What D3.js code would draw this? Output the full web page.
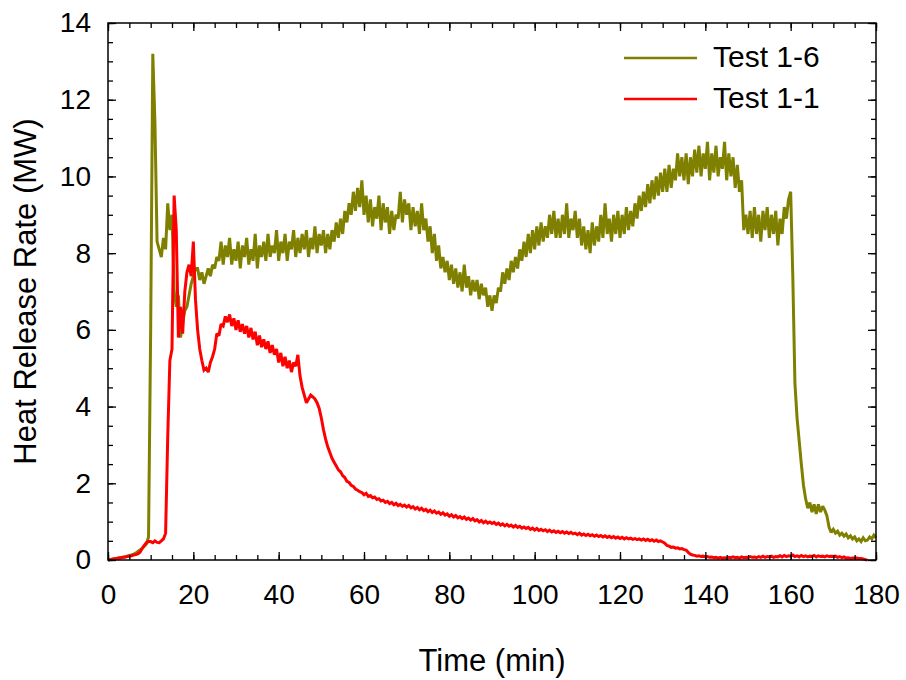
<!DOCTYPE html>
<html>
<head>
<meta charset="utf-8">
<script src="https://cdn.jsdelivr.net/npm/d3@7"></script>
<style>
	body { margin: 0; background: #fff; }
	svg { display: block; font-family: 'Liberation Sans', Arial, sans-serif; }
</style>
</head>
<body>
<div data-chart></div>
<script>
const dimensions = {
	width: 906,
	height: 680,
	marginTop: 23,
	marginRight: 30,
	marginBottom: 120,
	marginLeft: 108
}

// samples every half minute
const timeStep = 0.5

const test16 = [
	0, 0.01, 0.02, 0.03, 0.04, 0.05, 0.06, 0.07, 0.08, 0.1,
	0.12, 0.13, 0.15, 0.18, 0.22, 0.26, 0.3, 0.36, 0.42, 0.6,
	6.0, 13.2, 11.4, 8.3, 8.1, 7.9, 8.4, 8.1, 9.3, 8.6,
	9.0, 7.0, 6.6, 6.9, 5.8, 6.2, 6.5, 6.6, 6.9, 7.2,
	7.4, 7.6, 7.6, 7.3, 7.5, 7.2, 7.4, 7.6, 7.4, 7.7, 7.6, 7.9,
	7.8, 8.3, 7.7, 8.2, 7.9, 8.4, 7.7, 8.1, 7.8, 8.3,
	7.6, 8.2, 7.9, 8.4, 7.7, 8.1, 7.8, 8.5, 7.6, 8.2,
	7.9, 8.3, 7.8, 8.5, 7.9, 8.2, 8.0, 8.6, 7.8, 8.3,
	8.0, 8.5, 7.8, 8.3, 8.1, 8.6, 7.9, 8.4, 8.0, 8.5,
	8.1, 8.6, 7.9, 8.4, 8.1, 8.7, 8.0, 8.5, 8.2, 8.6,
	8.0, 8.5, 8.1, 8.6, 8.3, 8.8, 8.4, 8.9, 8.5, 9.1,
	8.8, 9.3, 9.0, 9.6, 9.1, 9.7, 9.2, 9.9, 9.0, 9.5,
	8.8, 9.4, 8.7, 9.2, 8.9, 9.5, 8.6, 9.3, 8.8, 9.2,
	8.5, 9.1, 8.6, 9.0, 8.9, 9.6, 8.8, 9.4, 9.0, 9.3,
	8.6, 9.2, 8.7, 9.1, 8.5, 9.3, 8.6, 8.9, 8.3, 8.7,
	8.0, 8.5, 7.8, 8.2, 7.6, 7.9, 7.5, 7.8, 7.3, 7.7,
	7.2, 7.6, 7.1, 7.5, 7.0, 7.7, 7.1, 7.4, 6.9, 7.3,
	7.0, 7.3, 6.8, 7.2, 6.9, 7.1, 6.6, 6.9, 6.5, 6.9,
	6.7, 7.1, 7.0, 7.5, 7.2, 7.6, 7.3, 7.8, 7.5, 7.9,
	7.6, 8.1, 7.8, 8.3, 7.9, 8.5, 8.0, 8.6, 8.1, 8.7,
	8.2, 8.8, 8.3, 8.7, 8.4, 9.0, 8.5, 9.1, 8.4, 8.9,
	8.4, 9.0, 8.5, 9.3, 8.4, 8.9, 8.6, 9.1, 8.4, 8.9,
	8.2, 8.7, 8.1, 8.6, 8.0, 8.8, 8.2, 8.7, 8.3, 9.0,
	8.4, 9.3, 8.5, 8.9, 8.3, 9.0, 8.5, 9.1, 8.4, 9.0,
	8.5, 9.2, 8.6, 9.1, 8.7, 9.3, 8.9, 9.5, 9.1, 9.6,
	9.2, 9.8, 9.3, 9.9, 9.4, 10.0, 9.5, 10.1, 9.6, 10.2,
	9.6, 10.3, 9.7, 10.2, 9.9, 10.6, 10.0, 10.5, 9.9, 10.6,
	9.8, 10.5, 10.0, 10.7, 10.1, 10.8, 10.0, 10.6, 10.2, 10.9,
	9.9, 10.6, 10.1, 10.8, 10.0, 10.5, 10.2, 10.9, 9.9, 10.6,
	10.0, 10.5, 9.7, 10.3, 9.6, 9.9, 8.6, 9.0, 8.5, 9.1,
	8.4, 9.2, 8.5, 9.0, 8.3, 9.1, 8.6, 9.2, 8.4, 9.0,
	8.5, 9.1, 8.2, 8.9, 8.5, 9.2, 8.9, 9.4, 9.6, 7.4,
	4.6, 3.7, 3.1, 2.5, 1.95, 1.6, 1.35, 1.5, 1.25, 1.45,
	1.2, 1.45, 1.25, 1.4, 1.3, 1.15, 0.85, 0.72, 0.8, 0.7,
	0.75, 0.65, 0.7, 0.62, 0.68, 0.58, 0.63, 0.55, 0.6, 0.5,
	0.55, 0.48, 0.58, 0.5, 0.52, 0.6, 0.55, 0.65, 0.58
]

const test11 = [
	0, 0.01, 0.02, 0.03, 0.04, 0.05, 0.06, 0.07, 0.08, 0.09,
	0.1, 0.11, 0.13, 0.14, 0.16, 0.2, 0.3, 0.38, 0.45, 0.48,
	0.48, 0.45, 0.5, 0.46, 0.45, 0.5, 0.55, 0.7, 3.2, 5.2,
	5.5, 9.5, 8.6, 5.8, 6.6, 5.9, 7.0, 7.5, 7.7, 7.4,
	8.3, 6.8, 6.0, 5.5, 5.2, 4.95, 5.0, 4.9, 5.15, 5.3,
	5.5, 5.9, 5.85, 6.15, 6.1, 6.35, 6.2, 6.4, 6.1, 6.3,
	6.0, 6.25, 5.95, 6.15, 5.9, 6.1, 5.8, 6.05, 5.75, 5.95,
	5.6, 5.85, 5.55, 5.75, 5.5, 5.7, 5.4, 5.6, 5.35, 5.5,
	5.15, 5.4, 5.05, 5.3, 5.0, 5.2, 4.9, 5.15, 5.05, 5.35,
	4.8, 4.5, 4.3, 4.1, 4.2, 4.3, 4.25, 4.2, 4.1, 3.95,
	3.7, 3.4, 3.15, 2.95, 2.8, 2.65, 2.55, 2.45, 2.35, 2.3,
	2.2, 2.15, 2.05, 2.02, 1.95, 1.92, 1.85, 1.82, 1.78, 1.76,
	1.7, 1.74, 1.66, 1.68, 1.62, 1.64, 1.58, 1.6, 1.54, 1.56,
	1.5, 1.53, 1.47, 1.5, 1.44, 1.48, 1.42, 1.45, 1.4, 1.43,
	1.38, 1.42, 1.36, 1.39, 1.33, 1.37, 1.31, 1.35, 1.29, 1.32,
	1.26, 1.3, 1.24, 1.28, 1.22, 1.25, 1.19, 1.23, 1.17, 1.2,
	1.14, 1.18, 1.12, 1.16, 1.1, 1.13, 1.08, 1.12, 1.06, 1.09,
	1.04, 1.08, 1.02, 1.05, 0.99, 1.03, 0.97, 1.01, 0.96, 0.99,
	0.95, 0.98, 0.93, 0.96, 0.91, 0.94, 0.89, 0.93, 0.88, 0.91,
	0.86, 0.9, 0.85, 0.88, 0.83, 0.86, 0.82, 0.85, 0.8, 0.83,
	0.78, 0.82, 0.77, 0.8, 0.76, 0.79, 0.74, 0.78, 0.73, 0.76,
	0.72, 0.75, 0.71, 0.74, 0.7, 0.73, 0.69, 0.72, 0.68, 0.7,
	0.66, 0.7, 0.65, 0.68, 0.64, 0.67, 0.63, 0.66, 0.62, 0.65,
	0.61, 0.64, 0.6, 0.63, 0.59, 0.62, 0.58, 0.61, 0.57, 0.6,
	0.56, 0.59, 0.55, 0.58, 0.55, 0.57, 0.54, 0.56, 0.53, 0.55,
	0.52, 0.55, 0.51, 0.54, 0.5, 0.53, 0.49, 0.52, 0.48, 0.5,
	0.47, 0.44, 0.38, 0.36, 0.33, 0.34, 0.31, 0.32, 0.29, 0.3,
	0.27, 0.26, 0.2, 0.15, 0.13, 0.12, 0.1, 0.11, 0.09, 0.1,
	0.08, 0.09, 0.07, 0.08, 0.06, 0.07, 0.05, 0.07, 0.05, 0.06,
	0.05, 0.07, 0.06, 0.08, 0.06, 0.07, 0.05, 0.08, 0.06, 0.07,
	0.06, 0.09, 0.07, 0.08, 0.06, 0.09, 0.07, 0.1, 0.07, 0.09,
	0.08, 0.1, 0.07, 0.09, 0.08, 0.11, 0.08, 0.12, 0.09, 0.11,
	0.1, 0.13, 0.09, 0.11, 0.08, 0.12, 0.09, 0.11, 0.08, 0.1,
	0.09, 0.12, 0.08, 0.11, 0.09, 0.1, 0.08, 0.11, 0.09, 0.1,
	0.09, 0.1, 0.07, 0.09, 0.06, 0.08, 0.05, 0.06, 0.04, 0.05,
	0.05, 0.05, 0.04, 0.04, 0.03, 0.01, 0
]

const series = [
	{ name: 'Test 1-6', values: test16, color: '#808000' },
	{ name: 'Test 1-1', values: test11, color: '#ff0000' }
]

const xMajorTicks = [0, 20, 40, 60, 80, 100, 120, 140, 160, 180]
const xMinorTicks = d3.range(0, 181, 5)
const yMajorTicks = [0, 2, 4, 6, 8, 10, 12, 14]
const yMinorTicks = d3.range(0, 14.01, 0.5)

const xLabel = 'Time (min)'
const yLabel = 'Heat Release Rate (MW)'

const xAccessor = (d) => d.time
const yAccessor = (d) => d.value

const toPoints = (values) => values.map((value, i) => ({ time: i * timeStep, value }))

const draw = () => {
	const svg = d3.select('[data-chart]')
		.append('svg')
		.attr('width', dimensions.width)
		.attr('height', dimensions.height)

	const left = dimensions.marginLeft
	const right = dimensions.width - dimensions.marginRight
	const top = dimensions.marginTop
	const bottom = dimensions.height - dimensions.marginBottom

	const xScale = d3.scaleLinear()
		.domain([0, 180])
		.range([left, right])

	const yScale = d3.scaleLinear()
		.domain([0, 14])
		.range([bottom, top])

	/* Lines */
	const lineGenerator = d3.line()
		.x((d) => xScale(xAccessor(d)))
		.y((d) => yScale(yAccessor(d)))

	svg.append('g')
		.selectAll('path')
		.data(series)
		.join('path')
		.attr('d', (s) => lineGenerator(toPoints(s.values)))
		.attr('fill', 'none')
		.attr('stroke', (s) => s.color)
		.attr('stroke-width', 3)
		.attr('stroke-linejoin', 'miter')
		.attr('stroke-miterlimit', 2)

	/* Axes, ticks pointing inward on all four sides */
	const addAxis = (axis, transform, ticks, size, labels) => {
		const g = svg.append('g')
			.attr('transform', transform)
			.call(axis.tickValues(ticks).tickSize(-size).tickPadding(labels ? labels : 0))
		g.select('.domain').remove()
		g.selectAll('.tick line').attr('stroke', '#000').attr('stroke-width', 1.3)
		if (!labels) g.selectAll('.tick text').remove()
		else g.selectAll('.tick text').attr('font-size', 28).attr('fill', '#000').attr('font-family', null)
		return g
	}

	addAxis(d3.axisBottom(xScale), `translate(0,${bottom})`, xMinorTicks, 5)
	addAxis(d3.axisBottom(xScale).tickFormat(d3.format('d')), `translate(0,${bottom})`, xMajorTicks, 8, 24)
	addAxis(d3.axisTop(xScale), `translate(0,${top})`, xMinorTicks, 5)
	addAxis(d3.axisTop(xScale), `translate(0,${top})`, xMajorTicks, 8)

	addAxis(d3.axisLeft(yScale), `translate(${left},0)`, yMinorTicks, 5)
	addAxis(d3.axisLeft(yScale).tickFormat(d3.format('d')), `translate(${left},0)`, yMajorTicks, 8, 17)
	addAxis(d3.axisRight(yScale), `translate(${right},0)`, yMinorTicks, 5)
	addAxis(d3.axisRight(yScale), `translate(${right},0)`, yMajorTicks, 8)

	/* Frame */
	svg.append('rect')
		.attr('x', left)
		.attr('y', top)
		.attr('width', right - left)
		.attr('height', bottom - top)
		.attr('fill', 'none')
		.attr('stroke', '#000')
		.attr('stroke-width', 1.5)

	/* Axis titles */
	svg.append('text')
		.attr('x', (left + right) / 2)
		.attr('y', 671)
		.attr('text-anchor', 'middle')
		.attr('font-size', 31)
		.text(xLabel)

	svg.append('text')
		.attr('transform', `translate(36,${(top + bottom) / 2}) rotate(-90)`)
		.attr('text-anchor', 'middle')
		.attr('font-size', 31)
		.text(yLabel)

	/* Legend */
	const legend = svg.append('g')
		.selectAll('g')
		.data(series)
		.join('g')
		.attr('transform', (s, i) => `translate(624,${58 + i * 41})`)

	legend.append('line')
		.attr('x1', 0)
		.attr('x2', 73)
		.attr('stroke', (s) => s.color)
		.attr('stroke-width', 2.5)

	legend.append('text')
		.attr('x', 89)
		.attr('y', 9)
		.attr('font-size', 30)
		.text((s) => s.name)
}

draw()
</script>
</body>
</html>
